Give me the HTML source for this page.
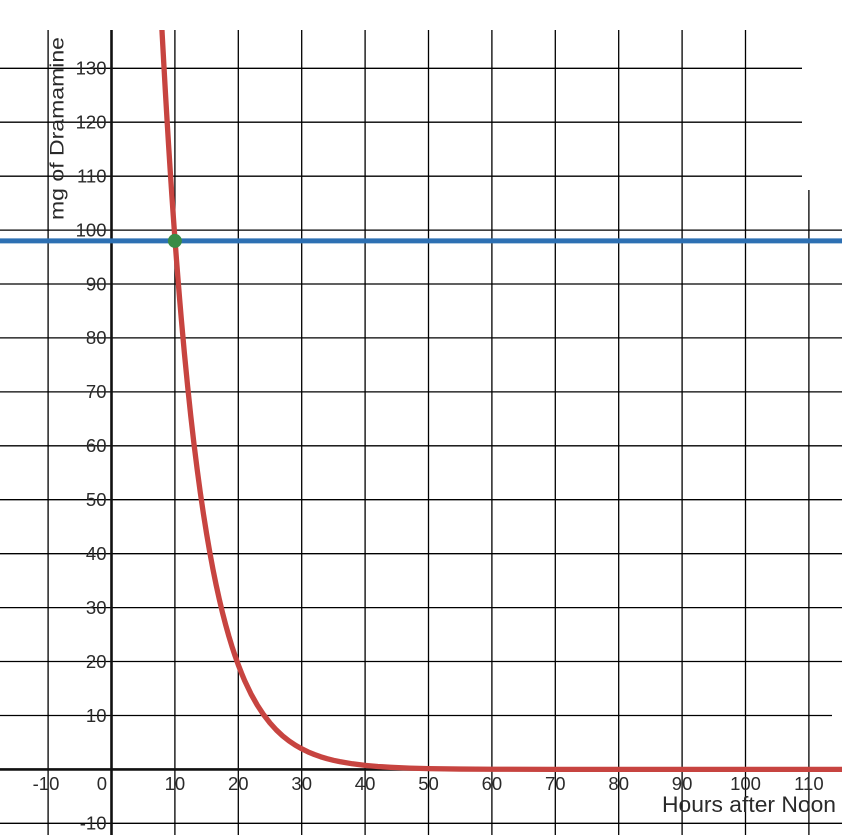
<!DOCTYPE html>
<html>
<head>
<meta charset="utf-8">
<style>
html,body{margin:0;padding:0;background:#fff;}
svg{display:block;}
text{font-family:"Liberation Sans",Arial,sans-serif;fill:#2a2a2a;}
</style>
</head>
<body>
<svg width="862" height="835" viewBox="0 0 862 835" xmlns="http://www.w3.org/2000/svg">
<rect x="0" y="0" width="862" height="835" fill="#fff"/>
<g stroke="#000" stroke-width="1.3" fill="none">
<line x1="48.1" y1="30" x2="48.1" y2="835"/>
<line x1="174.9" y1="30" x2="174.9" y2="835"/>
<line x1="238.3" y1="30" x2="238.3" y2="835"/>
<line x1="301.7" y1="30" x2="301.7" y2="835"/>
<line x1="365.1" y1="30" x2="365.1" y2="835"/>
<line x1="428.5" y1="30" x2="428.5" y2="835"/>
<line x1="491.9" y1="30" x2="491.9" y2="835"/>
<line x1="555.3" y1="30" x2="555.3" y2="835"/>
<line x1="618.7" y1="30" x2="618.7" y2="835"/>
<line x1="682.1" y1="30" x2="682.1" y2="835"/>
<line x1="745.5" y1="30" x2="745.5" y2="835"/>
<line x1="808.9" y1="30" x2="808.9" y2="835"/>
<line x1="0" y1="68.3" x2="842" y2="68.3"/>
<line x1="0" y1="122.2" x2="842" y2="122.2"/>
<line x1="0" y1="176.2" x2="842" y2="176.2"/>
<line x1="0" y1="230.1" x2="842" y2="230.1"/>
<line x1="0" y1="284.0" x2="842" y2="284.0"/>
<line x1="0" y1="337.9" x2="842" y2="337.9"/>
<line x1="0" y1="391.9" x2="842" y2="391.9"/>
<line x1="0" y1="445.8" x2="842" y2="445.8"/>
<line x1="0" y1="499.7" x2="842" y2="499.7"/>
<line x1="0" y1="553.7" x2="842" y2="553.7"/>
<line x1="0" y1="607.6" x2="842" y2="607.6"/>
<line x1="0" y1="661.5" x2="842" y2="661.5"/>
<line x1="0" y1="715.5" x2="842" y2="715.5"/>
<line x1="0" y1="823.3" x2="842" y2="823.3"/>
</g>
<g stroke="#111" stroke-width="2.6">
<line x1="111.5" y1="30" x2="111.5" y2="835"/>
<line x1="0" y1="769.4" x2="842" y2="769.4"/>
</g>

<g font-size="18.5" text-anchor="end">
<text x="106.5" y="74.6">130</text>
<text x="106.5" y="128.5">120</text>
<text x="106.5" y="182.5">110</text>
<text x="106.5" y="236.4">100</text>
<text x="106.5" y="290.3">90</text>
<text x="106.5" y="344.2">80</text>
<text x="106.5" y="398.2">70</text>
<text x="106.5" y="452.1">60</text>
<text x="106.5" y="506.0">50</text>
<text x="106.5" y="560.0">40</text>
<text x="106.5" y="613.9">30</text>
<text x="106.5" y="667.8">20</text>
<text x="106.5" y="721.8">10</text>
<text x="106.5" y="829.6">-10</text>
<text x="107" y="790">0</text>
</g>
<g font-size="18.5" text-anchor="middle">
<text x="46" y="790">-10</text>
<text x="174.9" y="790">10</text>
<text x="238.3" y="790">20</text>
<text x="301.7" y="790">30</text>
<text x="365.1" y="790">40</text>
<text x="428.5" y="790">50</text>
<text x="491.9" y="790">60</text>
<text x="555.3" y="790">70</text>
<text x="618.7" y="790">80</text>
<text x="682.1" y="790">90</text>
<text x="745.5" y="790">100</text>
<text x="808.9" y="790">110</text>
</g>

<text x="836" y="812" font-size="22" text-anchor="end" textLength="174" lengthAdjust="spacingAndGlyphs">Hours after Noon</text>
<text transform="translate(63.5,128.5) rotate(-90)" font-size="19" text-anchor="middle" textLength="183" lengthAdjust="spacingAndGlyphs">mg of Dramamine</text>

<line x1="0" y1="240.9" x2="842" y2="240.9" stroke="#2d70b3" stroke-width="5"/>

<path d="M161.97,30 L162.2,34.6 L163.81,63.9 L165.39,92.0 L166.98,118.9 L168.56,144.8 L170.15,169.7 L171.73,193.6 L173.32,216.5 L174.9,238.5 L176.49,259.7 L178.07,280.0 L179.66,299.5 L181.24,318.2 L184.41,353.4 L187.58,385.8 L190.75,415.8 L193.92,443.4 L197.09,468.8 L200.26,492.3 L203.43,513.9 L206.6,533.8 L209.77,552.2 L212.94,569.2 L216.11,584.8 L219.28,599.2 L222.45,612.5 L225.62,624.7 L228.79,636.0 L231.96,646.4 L235.13,656.0 L238.3,664.9 L241.47,673.0 L244.64,680.6 L250.98,693.9 L257.32,705.2 L263.66,714.8 L270.0,723.0 L276.34,730.0 L282.68,735.9 L289.02,740.9 L295.36,745.2 L301.7,748.8 L308.04,751.9 L314.38,754.5 L320.72,756.8 L327.06,758.7 L333.4,760.3 L339.74,761.6 L352.42,763.8 L365.1,765.35 L377.78,766.5 L390.46,767.3 L409.48,768.1 L428.5,768.6 L460.2,769.05 L491.9,769.24 L555.3,769.37 L842,769.4" fill="none" stroke="#c74440" stroke-width="5.3" stroke-linejoin="round" stroke-linecap="round"/>

<circle cx="174.9" cy="240.9" r="7" fill="#388c46"/>

<rect x="0" y="0" width="862" height="30" fill="#fff"/>
<rect x="842" y="0" width="20" height="835" fill="#fff"/>
<rect x="802" y="30" width="40" height="160" fill="#fff"/>
<rect x="832" y="705" width="10" height="60" fill="#fff"/>
</svg>
</body>
</html>
